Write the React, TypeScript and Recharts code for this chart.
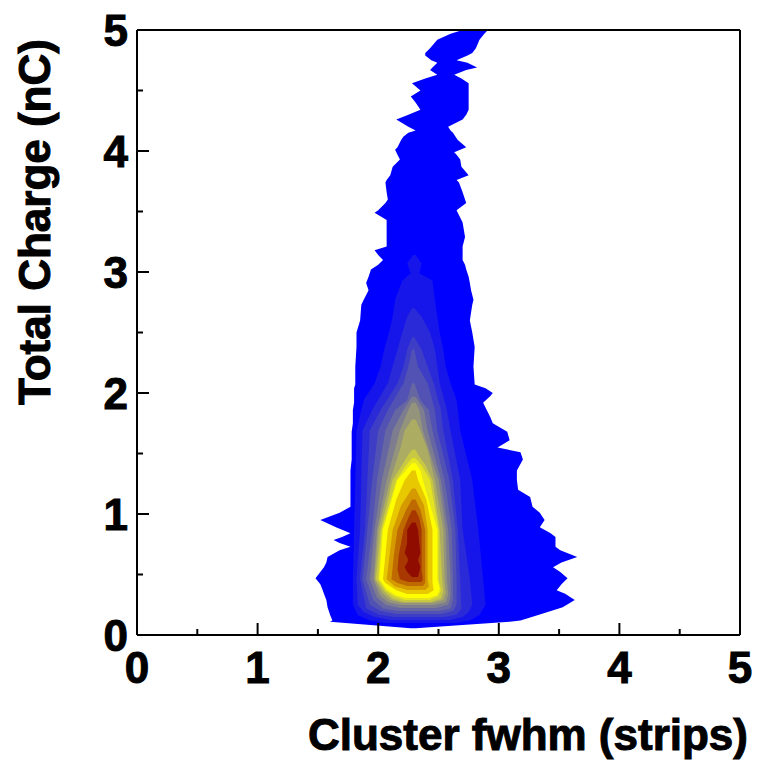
import React from 'react';
import { ComposedChart, Area, XAxis, YAxis, ReferenceLine } from 'recharts';

// each contour band: [total charge (nC), fwhm left edge, fwhm right edge]
const band0 = [
  [0.055, 2.27, 2.31], [0.11, 1.60, 3.09], [0.12, 1.62, 3.18], [0.17, 1.60, 3.34],
  [0.23, 1.58, 3.53], [0.29, 1.57, 3.63], [0.34, 1.55, 3.55], [0.37, 1.54, 3.48],
  [0.42, 1.52, 3.52], [0.47, 1.48, 3.57], [0.52, 1.52, 3.51], [0.56, 1.55, 3.45],
  [0.60, 1.57, 3.52], [0.645, 1.58, 3.65], [0.70, 1.68, 3.51], [0.73, 1.77, 3.47],
  [0.76, 1.68, 3.47], [0.785, 1.63, 3.47], [0.81, 1.70, 3.47], [0.84, 1.77, 3.43],
  [0.89, 1.65, 3.34], [0.95, 1.52, 3.38], [1.01, 1.68, 3.34], [1.06, 1.77, 3.28],
  [1.14, 1.77, 3.26], [1.20, 1.77, 3.16], [1.28, 1.77, 3.15], [1.36, 1.77, 3.15],
  [1.45, 1.78, 3.20], [1.51, 1.78, 3.18], [1.55, 1.78, 2.99], [1.61, 1.78, 3.09],
  [1.68, 1.78, 3.07], [1.75, 1.79, 2.95], [1.80, 1.79, 2.93], [1.86, 1.79, 2.90],
  [1.92, 1.80, 2.87], [1.975, 1.80, 2.93], [2.00, 1.80, 2.95], [2.04, 1.80, 2.89],
  [2.07, 1.81, 2.80], [2.22, 1.81, 2.79], [2.38, 1.82, 2.80], [2.50, 1.82, 2.78],
  [2.60, 1.85, 2.76], [2.73, 1.86, 2.78], [2.77, 1.88, 2.79], [2.85, 1.92, 2.77],
  [2.91, 1.90, 2.76], [2.96, 1.92, 2.75], [3.02, 1.94, 2.73], [3.06, 2.00, 2.72],
  [3.10, 2.04, 2.70], [3.14, 2.00, 2.70], [3.18, 1.97, 2.70], [3.21, 2.07, 2.70],
  [3.29, 2.07, 2.72], [3.35, 2.07, 2.71], [3.41, 2.07, 2.70], [3.43, 2.07, 2.69],
  [3.49, 1.97, 2.66], [3.51, 2.00, 2.65], [3.57, 2.06, 2.73], [3.60, 2.08, 2.72],
  [3.66, 2.07, 2.70], [3.74, 2.06, 2.67], [3.76, 2.07, 2.65], [3.80, 2.10, 2.75],
  [3.87, 2.12, 2.69], [3.93, 2.18, 2.68], [3.97, 2.16, 2.65], [3.99, 2.15, 2.63],
  [4.01, 2.14, 2.68], [4.03, 2.16, 2.73], [4.09, 2.19, 2.66], [4.12, 2.21, 2.64],
  [4.15, 2.25, 2.62], [4.17, 2.31, 2.60], [4.20, 2.25, 2.58], [4.26, 2.15, 2.70],
  [4.30, 2.25, 2.73], [4.34, 2.35, 2.75], [4.40, 2.31, 2.75], [4.45, 2.27, 2.75],
  [4.50, 2.35, 2.75], [4.56, 2.28, 2.75], [4.60, 2.39, 2.69], [4.63, 2.49, 2.63],
  [4.67, 2.43, 2.73], [4.69, 2.45, 2.82], [4.73, 2.49, 2.74], [4.75, 2.44, 2.65],
  [4.79, 2.39, 2.74], [4.81, 2.39, 2.78], [4.85, 2.43, 2.81], [4.92, 2.49, 2.84],
  [4.97, 2.60, 2.88], [5.00, 2.70, 2.91],
];
const band1 = [
  [0.10, 2.06, 2.64], [0.12, 1.93, 2.76], [0.165, 1.83, 2.84], [0.25, 1.79, 2.89],
  [0.46, 1.79, 2.87], [0.87, 1.80, 2.83], [1.28, 1.81, 2.78], [1.69, 1.82, 2.68],
  [1.94, 1.88, 2.65], [2.08, 1.97, 2.60], [2.22, 2.02, 2.56], [2.36, 2.05, 2.54],
  [2.50, 2.09, 2.51], [2.63, 2.12, 2.49], [2.77, 2.14, 2.47], [2.93, 2.20, 2.45],
  [2.99, 2.27, 2.34], [3.07, 2.24, 2.36], [3.14, 2.29, 2.31],
];
const band2 = [
  [0.124, 2.10, 2.59], [0.149, 1.97, 2.70], [0.19, 1.88, 2.75], [0.25, 1.83, 2.78],
  [0.46, 1.82, 2.76], [0.87, 1.85, 2.70], [1.28, 1.86, 2.68], [1.69, 1.87, 2.60],
  [1.86, 1.95, 2.57], [2.08, 2.08, 2.51], [2.36, 2.16, 2.47], [2.50, 2.20, 2.43],
  [2.63, 2.24, 2.36], [2.70, 2.28, 2.30],
];
const band3 = [
  [0.149, 2.13, 2.55], [0.17, 2.00, 2.65], [0.22, 1.90, 2.69], [0.46, 1.85, 2.68],
  [0.87, 1.89, 2.66], [1.28, 1.91, 2.62], [1.69, 1.93, 2.54], [1.86, 2.02, 2.52],
  [2.08, 2.16, 2.46], [2.22, 2.21, 2.41], [2.36, 2.24, 2.36], [2.46, 2.28, 2.30],
];
const band4 = [
  [0.174, 2.15, 2.52], [0.198, 2.02, 2.62], [0.25, 1.93, 2.65], [0.46, 1.87, 2.65],
  [0.87, 1.91, 2.64], [1.28, 1.95, 2.59], [1.69, 2.00, 2.49], [1.86, 2.08, 2.47],
  [2.08, 2.21, 2.41], [2.22, 2.25, 2.33], [2.36, 2.28, 2.30],
];
const band5 = [
  [0.198, 2.16, 2.50], [0.22, 2.04, 2.60], [0.29, 1.96, 2.62], [0.46, 1.90, 2.62],
  [0.87, 1.95, 2.61], [1.28, 1.99, 2.55], [1.69, 2.06, 2.45], [1.86, 2.14, 2.42],
  [1.94, 2.24, 2.35], [2.08, 2.28, 2.30],
];
const band6 = [
  [0.223, 2.18, 2.48], [0.25, 2.06, 2.58], [0.31, 1.99, 2.60], [0.46, 1.93, 2.60],
  [0.87, 1.97, 2.58], [1.28, 2.03, 2.52], [1.69, 2.12, 2.41], [1.86, 2.21, 2.38],
  [1.97, 2.28, 2.31],
];
const band7 = [
  [0.248, 2.19, 2.46], [0.27, 2.08, 2.56], [0.33, 2.01, 2.58], [0.46, 1.96, 2.57],
  [0.87, 1.99, 2.56], [1.28, 2.07, 2.50], [1.69, 2.18, 2.37], [1.86, 2.25, 2.34],
  [1.92, 2.28, 2.31],
];
const band8 = [
  [0.264, 2.20, 2.45], [0.29, 2.10, 2.54], [0.35, 2.03, 2.56], [0.46, 1.97, 2.55],
  [0.87, 2.00, 2.54], [1.28, 2.10, 2.47], [1.53, 2.18, 2.41], [1.69, 2.22, 2.35],
  [1.78, 2.28, 2.31],
];
const band9 = [
  [0.273, 2.21, 2.44], [0.30, 2.12, 2.52], [0.36, 2.05, 2.54], [0.46, 1.98, 2.53],
  [0.87, 2.02, 2.51], [1.28, 2.12, 2.45], [1.41, 2.20, 2.39], [1.49, 2.25, 2.33],
  [1.53, 2.28, 2.31],
];
const band10 = [
  [0.289, 2.22, 2.43], [0.32, 2.13, 2.50], [0.37, 2.06, 2.52], [0.46, 2.00, 2.50],
  [0.87, 2.03, 2.50], [1.28, 2.15, 2.43], [1.40, 2.23, 2.36], [1.46, 2.28, 2.31],
];
const band11 = [
  [0.306, 2.23, 2.42], [0.33, 2.14, 2.49], [0.38, 2.07, 2.51], [0.46, 2.01, 2.49],
  [0.87, 2.04, 2.49], [1.28, 2.16, 2.37], [1.36, 2.23, 2.35], [1.42, 2.28, 2.31],
];
const band12 = [
  [0.339, 2.24, 2.41], [0.37, 2.15, 2.46], [0.43, 2.06, 2.45], [0.46, 2.04, 2.45],
  [0.87, 2.08, 2.45], [1.12, 2.15, 2.40], [1.28, 2.22, 2.33], [1.36, 2.28, 2.31],
];
const band13 = [
  [0.372, 2.24, 2.39], [0.40, 2.14, 2.42], [0.46, 2.07, 2.41], [0.87, 2.12, 2.41],
  [1.07, 2.19, 2.38], [1.21, 2.28, 2.31],
];
const band14 = [
  [0.405, 2.24, 2.37], [0.43, 2.16, 2.39], [0.46, 2.11, 2.39], [0.66, 2.13, 2.39],
  [0.87, 2.16, 2.39], [1.03, 2.23, 2.35], [1.12, 2.28, 2.31],
];
const band15 = [
  [0.438, 2.25, 2.36], [0.46, 2.18, 2.37], [0.54, 2.16, 2.36], [0.66, 2.17, 2.36],
  [0.87, 2.21, 2.36], [0.97, 2.25, 2.34], [1.03, 2.28, 2.31],
];
const band16 = [
  [0.48, 2.28, 2.33], [0.52, 2.24, 2.34], [0.56, 2.22, 2.35], [0.62, 2.25, 2.33],
  [0.68, 2.22, 2.35], [0.76, 2.24, 2.34], [0.87, 2.24, 2.33], [0.93, 2.28, 2.31],
];

const BANDS = [band0, band1, band2, band3, band4, band5, band6, band7, band8,
  band9, band10, band11, band12, band13, band14, band15, band16];

const COLORS = [
  '#0000ff', '#1616ea', '#2a2ad8', '#3d3dc6', '#5252b4', '#6666a3', '#7d7d8f',
  '#94947c', '#acac62', '#c8c842', '#e4e420', '#ffff00', '#e8c800', '#d49a00',
  '#bf6a00', '#a83800', '#900c00',
];

const TICKS = [0, 0.5, 1, 1.5, 2, 2.5, 3, 3.5, 4, 4.5, 5];

const FONT = '"Liberation Sans", Arial, sans-serif';

const toRows = (band: number[][]) => band.map(([y, l, r]) => ({ y, fwhm: [l, r] }));

const XTick = ({ x, y, payload }: any) => {
  const major = Number.isInteger(payload.value);
  return (
    <g>
      <line x1={x} x2={x} y1={y} y2={y - (major ? 12 : 6)} stroke="#000" strokeWidth={2} />
      {major && (
        <text x={x} y={y + 48} textAnchor="middle" fontFamily={FONT} fontWeight="bold"
          fontSize={44} fill="#000" stroke="#000" strokeWidth={1}>
          {payload.value}
        </text>
      )}
    </g>
  );
};

const YTick = ({ x, y, payload }: any) => {
  const major = Number.isInteger(payload.value);
  return (
    <g>
      <line x1={x} x2={x + (major ? 12 : 6)} y1={y} y2={y} stroke="#000" strokeWidth={2} />
      {major && (
        <text x={x - 9} y={y + 16} textAnchor="end" fontFamily={FONT} fontWeight="bold"
          fontSize={44} fill="#000" stroke="#000" strokeWidth={1}>
          {payload.value}
        </text>
      )}
    </g>
  );
};

export default function App() {
  return (
    <div style={{ position: 'fixed', left: 0, top: 0, width: 760, height: 765, background: '#fff' }}>
      <ComposedChart
        width={760}
        height={765}
        layout="vertical"
        margin={{ top: 30, right: 20, left: 0, bottom: 0 }}
      >
        <XAxis
          type="number"
          domain={[0, 5]}
          ticks={TICKS}
          interval={0}
          allowDataOverflow
          height={130}
          tickSize={0}
          tickMargin={0}
          tickLine={false}
          tick={<XTick />}
          axisLine={{ stroke: '#000', strokeWidth: 2 }}
        />
        <YAxis
          type="number"
          dataKey="y"
          domain={[0, 5]}
          ticks={TICKS}
          interval={0}
          reversed
          allowDataOverflow
          width={137}
          tickSize={0}
          tickMargin={0}
          tickLine={false}
          tick={<YTick />}
          axisLine={{ stroke: '#000', strokeWidth: 2 }}
        />
        {BANDS.map((band, i) => (
          <Area
            key={`band-${i}`}
            data={toRows(band)}
            dataKey="fwhm"
            type="linear"
            fill={COLORS[i]}
            fillOpacity={1}
            stroke="none"
            dot={false}
            activeDot={false}
            isAnimationActive={false}
          />
        ))}
        <ReferenceLine y={5} stroke="#000" strokeWidth={2} />
        <ReferenceLine x={5} stroke="#000" strokeWidth={2} />
      </ComposedChart>
      <svg width={760} height={765} style={{ position: 'absolute', left: 0, top: 0, pointerEvents: 'none' }}>
        <text x={748} y={750} textAnchor="end" fontFamily={FONT} fontWeight="bold" fontSize={44}
          fill="#000" stroke="#000" strokeWidth={1}>
          Cluster fwhm (strips)
        </text>
        <text x={50} y={222} transform="rotate(-90, 50, 222)" textAnchor="middle" fontFamily={FONT}
          fontWeight="bold" fontSize={44} fill="#000" stroke="#000" strokeWidth={1}>
          Total Charge (nC)
        </text>
      </svg>
    </div>
  );
}
